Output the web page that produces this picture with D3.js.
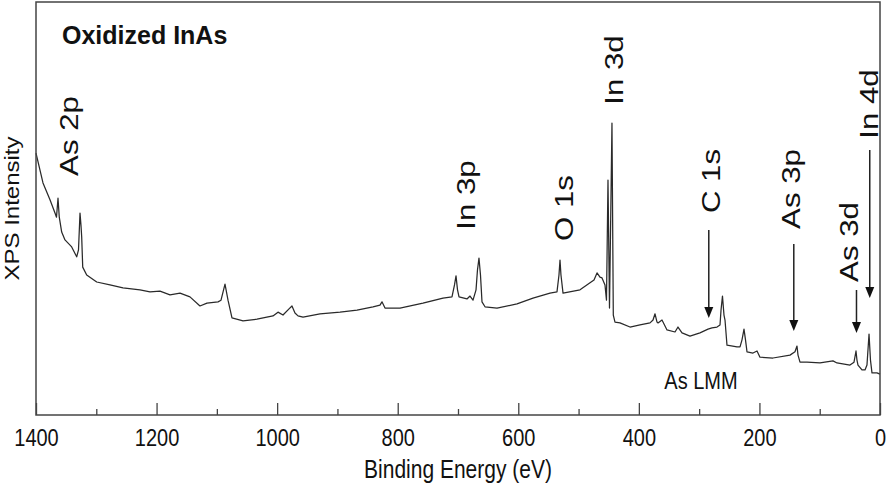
<!DOCTYPE html>
<html>
<head>
<meta charset="utf-8">
<script src="https://cdn.jsdelivr.net/npm/d3@7"></script>
<style>
  html, body { margin: 0; padding: 0; background: #fff; }
  svg { display: block; }
  text { font-family: "Liberation Sans", Arial, Helvetica, sans-serif; fill: #111; }
</style>
</head>
<body>
<svg id="chart" width="887" height="486"></svg>
<script>
// ---- Data (binding energy in eV, intensity in arbitrary units) ----
const energy = [1400.0,1388.4,1376.8,1368.5,1366.0,1363.5,1361.4,1357.4,1351.9,1340.8,1332.5,1329.5,1327.0,1325.4,1324.2,1322.5,1315.9,1299.3,1277.3,1255.7,1227.5,1210.9,1194.3,1177.7,1161.1,1144.6,1128.0,1116.4,1098.1,1093.1,1086.5,1081.5,1074.9,1056.6,1033.4,1006.9,998.6,990.3,980.3,975.4,970.4,965.4,957.1,928.9,895.7,867.5,841.0,829.4,826.1,821.1,796.2,758.1,724.9,710.0,705.8,703.3,700.8,698.3,685.1,680.1,675.1,670.1,667.7,665.2,662.7,660.2,655.2,635.3,602.1,575.6,547.4,535.8,532.5,530.8,529.2,525.8,497.6,481.0,474.4,469.4,464.5,461.1,456.2,453.7,451.2,448.7,444.6,442.4,439.6,431.3,414.7,398.1,381.5,376.5,373.2,369.9,368.2,361.6,353.3,340.0,335.1,328.4,315.2,298.6,285.3,278.7,270.4,265.4,263.7,261.3,258.8,257.1,253.8,237.2,232.2,228.9,225.6,223.1,220.6,210.7,204.0,199.1,177.5,149.3,141.0,137.7,136.0,132.7,121.1,99.5,78.0,71.3,49.8,43.1,39.8,38.2,36.5,29.9,24.9,21.6,18.2,15.8,13.3,5.0,0.0];
const intensity = [63.4,56.2,52.1,48.9,47.9,52.5,47.9,44.3,42.4,40.7,38.3,40.0,48.9,46.0,43.1,35.8,33.9,32.2,31.5,30.8,30.3,29.8,30.0,29.1,29.5,28.6,26.4,27.1,27.4,27.8,31.7,27.8,23.5,22.8,23.2,24.0,24.9,24.2,25.7,26.4,24.7,24.0,23.7,24.5,24.9,25.4,26.2,26.6,27.4,25.9,25.9,27.1,28.3,28.6,31.5,33.7,30.3,28.6,28.1,28.8,27.8,30.3,35.1,38.0,33.9,27.4,26.2,25.9,26.9,28.3,29.5,29.8,33.9,37.5,33.9,29.5,30.3,32.0,32.7,34.4,33.4,33.2,31.5,27.8,56.9,25.9,70.7,24.2,22.5,22.3,21.3,21.8,22.3,23.0,24.5,22.5,22.3,23.0,20.6,20.1,21.3,19.9,19.1,19.9,20.8,21.1,21.3,21.8,25.4,28.8,24.2,23.0,16.9,16.5,16.5,18.2,20.8,18.2,15.3,15.0,15.5,14.0,13.8,14.5,15.3,16.7,14.5,12.8,12.8,12.6,13.1,12.6,12.1,12.8,15.5,13.3,12.1,10.9,10.9,12.1,19.6,13.3,10.2,10.2,9.9];

const majorTicks = [1400, 1200, 1000, 800, 600, 400, 200, 0];
const minorTicks = [1300, 1100, 900, 700, 500, 300, 100];

// Peak labels (rotated) and arrows
const peakLabels = ["As 2p", "In 3p", "O 1s", "In 3d", "C 1s", "As 3p", "As 3d", "In 4d"];
const arrowLabels = ["C 1s", "As 3p", "As 3d", "In 4d"];
const arrowEnergy = [284, 143, 39, 17];

const chartTitle = "Oxidized InAs";
const xTitle = "Binding Energy (eV)";
const yTitle = "XPS Intensity";
const augerLabel = "As LMM";

// ---- Layout ----
const W = 887, H = 486;
const L = 36, R = 880, T = 2, B = 415;
const SY = 1.2; // vertical text stretch as in the reference

const svg = d3.select("#chart");
const x = d3.scaleLinear().domain([1400, 0]).range([L, R]);
const y = d3.scaleLinear().domain([0, 100]).range([B, T]);

function addText(px, py, str, opt) {
  const o = Object.assign({ size: 20, weight: "normal", anchor: "middle", rot: false, sy: SY }, opt || {});
  return svg.append("text")
    .attr("transform", `translate(${px},${py}) scale(1,${o.sy})` + (o.rot ? " rotate(-90)" : ""))
    .attr("text-anchor", o.anchor)
    .style("font-size", o.size + "px")
    .style("font-weight", o.weight)
    .text(str);
}

// Spectrum line
const pts = energy.map((e, i) => [e, intensity[i]]);
svg.append("path")
  .datum(pts)
  .attr("fill", "none")
  .attr("stroke", "#2a2a2a")
  .attr("stroke-width", 1.25)
  .attr("stroke-linejoin", "round")
  .attr("d", d3.line().x(d => x(d[0])).y(d => y(d[1])));

// Axes: bottom with inward ticks
const gMinor = svg.append("g").attr("transform", `translate(0,${B})`)
  .call(d3.axisBottom(x).tickValues(minorTicks).tickSize(-6).tickFormat(""));
const gMajor = svg.append("g").attr("transform", `translate(0,${B})`)
  .call(d3.axisBottom(x).tickValues(majorTicks).tickSize(-12).tickPadding(15).tickFormat(d3.format("d")));
[gMinor, gMajor].forEach(g => {
  g.select(".domain").remove();
  g.selectAll(".tick line").attr("stroke", "#444").attr("stroke-width", 1.3);
});
gMajor.selectAll(".tick text")
  .attr("dy", null)
  .attr("y", null)
  .attr("transform", `translate(0,${31}) scale(1,${SY})`)
  .style("font-size", "20px")
  .style("font-family", '"Liberation Sans", Arial, sans-serif')
  .attr("fill", "#111");

// Frame
svg.append("rect")
  .attr("x", L).attr("y", T)
  .attr("width", R - L).attr("height", B - T)
  .attr("fill", "none")
  .attr("stroke", "#444")
  .attr("stroke-width", 1.5);

// Titles
addText(L + 26, 44, chartTitle, { size: 25, weight: "bold", anchor: "start", sy: 1 });
addText((L + R) / 2, 478, xTitle, { size: 21 });
addText(19, (T + B) / 2, yTitle, { size: 20, rot: true });
addText(701, 389, augerLabel, { size: 20 });

// Peak labels: [baseline x, center y]
const labelPos = [[78, 136], [475, 195], [573, 208], [623, 70], [720, 181], [800, 189], [858, 242], [878, 104]];
peakLabels.forEach((s, i) => {
  addText(labelPos[i][0], labelPos[i][1], s, { size: 26, rot: true });
});

// Arrows
const arrowY = [[230, 318], [244, 331], [290, 333], [150, 298]];
arrowLabels.forEach((s, i) => {
  const ax = x(arrowEnergy[i]);
  const [y0, y1] = arrowY[i];
  svg.append("line")
    .attr("x1", ax).attr("x2", ax)
    .attr("y1", y0).attr("y2", y1 - 8)
    .attr("stroke", "#222").attr("stroke-width", 1.5);
  svg.append("path")
    .attr("d", `M${ax - 4.5},${y1 - 11} L${ax + 4.5},${y1 - 11} L${ax},${y1} Z`)
    .attr("fill", "#111");
});
</script>
</body>
</html>
